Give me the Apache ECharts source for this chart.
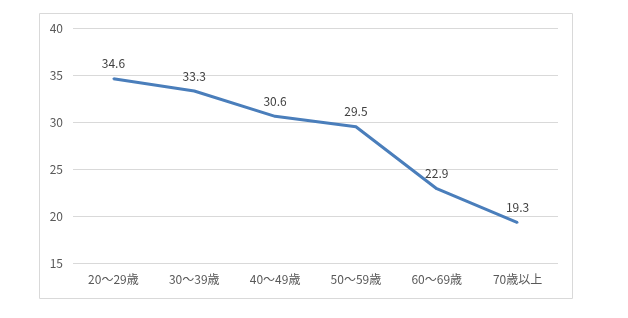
<!DOCTYPE html>
<html><head><meta charset="utf-8">
<script src="https://cdn.jsdelivr.net/npm/echarts@6/dist/echarts.min.js"></script>
<style>html,body{margin:0;padding:0;background:#fff}#c{width:628px;height:318px}</style>
</head><body><div id="c"></div>
<script>
const categories = ['20～29歳','30～39歳','40～49歳','50～59歳','60～69歳','70歳以上'];
const values = [34.6, 33.3, 30.6, 29.5, 22.9, 19.3];
const font = '"Noto Sans CJK JP", "Noto Sans", sans-serif';
const chart = echarts.init(document.getElementById('c'));
chart.setOption({
  animation: false,
  textStyle: {fontFamily: font},
  graphic: [{type:'rect', shape:{x:39.5,y:13.5,width:533,height:285}, style:{fill:'none', stroke:'#d9d9d9', lineWidth:1}, silent:true}],
  grid: {left:73, right:70, top:28, bottom:55},
  xAxis: {type:'category', data:categories, boundaryGap:true,
    axisLine:{show:false}, axisTick:{show:false},
    axisLabel:{color:'#595959', fontSize:12, margin:10, fontFamily:font}},
  yAxis: {type:'value', min:15, max:40, interval:5,
    axisLine:{show:false}, axisTick:{show:false},
    axisLabel:{color:'#595959', fontSize:12, margin:10, fontFamily:font},
    splitLine:{lineStyle:{color:'#d9d9d9', width:1}}},
  series: [{type:'line', data:values, symbol:'circle', symbolSize:2, showSymbol:true,
    itemStyle:{color:'#4a7ebb'},
    lineStyle:{color:'#4a7ebb', width:3},
    label:{show:true, position:'top', distance:8, color:'#404040', fontSize:12, fontFamily:font,
      formatter: p => p.value.toFixed(1)}}]
});
</script></body></html>
